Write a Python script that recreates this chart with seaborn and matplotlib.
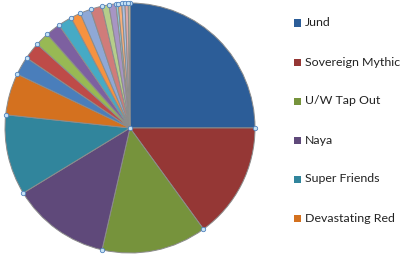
import numpy as np
import matplotlib
matplotlib.use("Agg")
import matplotlib.pyplot as plt
from matplotlib.patches import Rectangle
import seaborn as sns

# ---- data ----
legend_labels = ["Jund", "Sovereign Mythic", "U/W Tap Out", "Naya",
                 "Super Friends", "Devastating Red"]
values = [25.0, 15.0, 13.6, 12.7, 10.4, 5.4, 2.4, 2.2, 1.8, 1.9, 1.8,
          1.3, 1.4, 1.5, 0.9, 0.9, 0.3, 0.45, 0.42, 0.42, 0.22]
colors = ["#2C5D98", "#953735", "#76933C", "#5F497A", "#31859C", "#D4711F",
          "#4A7EBB", "#BE4B48", "#98B954", "#7D60A0", "#46AAC5", "#F69240",
          "#8FA8D6", "#D07C7A", "#B5CE8A", "#A795C4", "#8DCBDC", "#F8B07A",
          "#A9BEE2", "#E0A9A8", "#CEDFB0"]

sns.set_theme(style="white")
plt.rcParams['font.family'] = ['Lato', 'DejaVu Sans']

W, H = 400, 259
fig = plt.figure(figsize=(W / 100, H / 100), dpi=100)
fig.patch.set_facecolor("white")

cx, cy, r = 130, 128, 125
ax = fig.add_axes([(cx - r) / W, (H - cy - r) / H, 2 * r / W, 2 * r / H])
pal = sns.color_palette(colors)
ax.pie(values, colors=pal, startangle=90, counterclock=False, radius=1,
       wedgeprops=dict(edgecolor="#8C8C8C", linewidth=0.7))
ax.set_xlim(-1.0, 1.0)
ax.set_ylim(-1.0, 1.0)
ax.set_aspect("equal")
ax.axis("off")

# selection handles at slice boundaries
cum = np.concatenate([[0], np.cumsum(values)]) / np.sum(values)
ang = np.deg2rad(90 - 360 * cum[:-1])
ax.scatter(np.cos(ang), np.sin(ang), s=10, facecolor="#C6E2F5",
           edgecolor="#4F81BD", linewidth=0.6, zorder=5, clip_on=False)
ax.scatter([0], [0], s=10, facecolor="#C6E2F5", edgecolor="#4F81BD",
           linewidth=0.6, zorder=5, clip_on=False)

# legend
for i, (lab, col) in enumerate(zip(legend_labels, pal[:6])):
    yc = 23 + 39 * i
    fig.patches.append(Rectangle((294 / W, (H - yc - 3.5) / H), 7 / W, 7 / H,
                                 transform=fig.transFigure, facecolor=col,
                                 edgecolor="none"))
    fig.text(305 / W, (H - yc) / H, lab, fontsize=8.9, color="#222222",
             va="center", ha="left")

fig.savefig("out.png", dpi=100, facecolor="white")
